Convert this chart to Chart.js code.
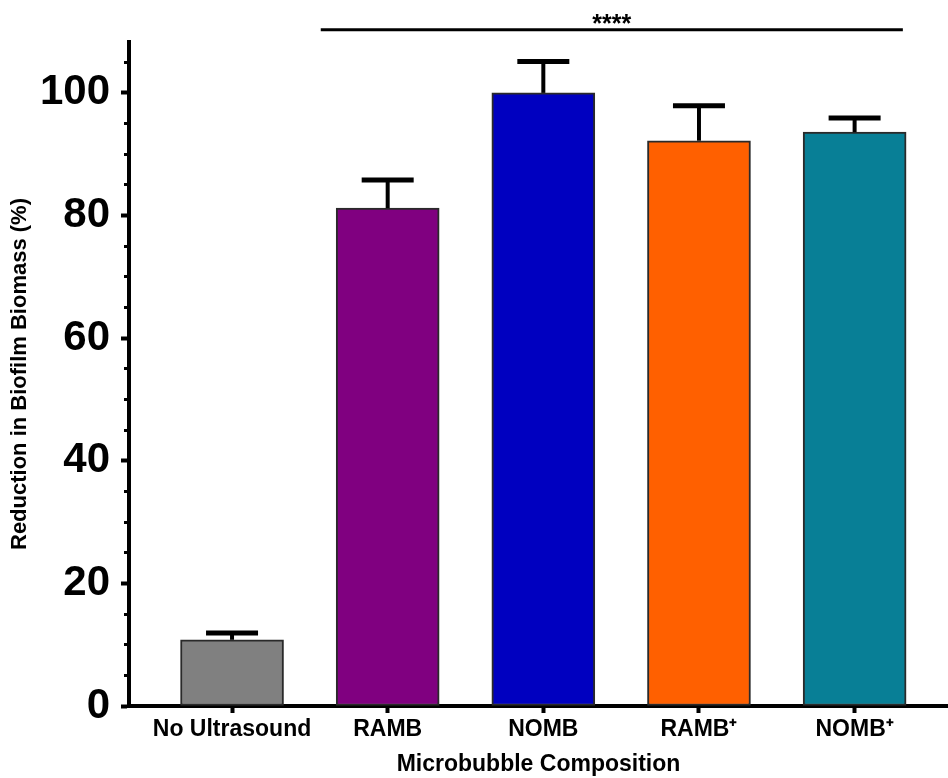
<!DOCTYPE html>
<html>
<head>
<meta charset="utf-8">
<script src="https://cdn.jsdelivr.net/npm/chart.js@4.4.1/dist/chart.umd.min.js"></script>
<style>
  html, body { margin: 0; padding: 0; background: #ffffff; }
  #wrap { width: 948px; height: 778px; }
</style>
</head>
<body>
<div id="wrap"><canvas id="chart" width="948" height="778"></canvas></div>
<script>
// Biofilm biomass reduction by microbubble composition (mean and SD)
const categories = ['No Ultrasound', 'RAMB', 'NOMB', 'RAMB\u207A', 'NOMB\u207A'];
const meanReduction = [10.8, 81.2, 100.0, 92.2, 93.6];
const sdReduction = [1.1, 4.6, 5.1, 5.7, 2.3];
const barColors = ['#808080', '#800080', '#0000C0', '#FF6000', '#087F96'];
const yTickLabels = ['0', '20', '40', '60', '80', '100'];
const significanceLabel = '****';

const FONT = "'Liberation Sans', Arial, Helvetica, sans-serif";
Chart.defaults.font.family = FONT;
Chart.defaults.color = '#000000';

// Upper error bars (mean + SD) drawn over each bar
const errorBarPlugin = {
  id: 'errorBars',
  afterDatasetsDraw(chart) {
    const ctx = chart.ctx;
    const yScale = chart.scales.y;
    const meta = chart.getDatasetMeta(0);
    ctx.save();
    ctx.strokeStyle = '#000000';
    ctx.lineCap = 'butt';
    meta.data.forEach((bar, i) => {
      const yTop = yScale.getPixelForValue(meanReduction[i] + sdReduction[i]);
      const yBase = bar.y;
      ctx.lineWidth = 4;
      ctx.beginPath();
      ctx.moveTo(bar.x, yBase);
      ctx.lineTo(bar.x, yTop);
      ctx.stroke();
      ctx.lineWidth = 5;
      ctx.beginPath();
      ctx.moveTo(bar.x - 26, yTop);
      ctx.lineTo(bar.x + 26, yTop);
      ctx.stroke();
    });
    ctx.restore();
  }
};

// Significance bracket across the treated groups
const bracketPlugin = {
  id: 'sigBracket',
  afterDraw(chart, args, opts) {
    const ctx = chart.ctx;
    const xs = chart.scales.x, ys = chart.scales.y;
    const x1 = xs.getPixelForValue(opts.from);
    const x2 = xs.getPixelForValue(opts.to);
    const y = ys.getPixelForValue(opts.level);
    ctx.save();
    ctx.strokeStyle = '#000000';
    ctx.lineWidth = 3;
    ctx.beginPath();
    ctx.moveTo(x1, y);
    ctx.lineTo(x2, y);
    ctx.stroke();
    ctx.fillStyle = '#000000';
    ctx.font = 'bold 25px ' + FONT;
    ctx.textAlign = 'center';
    ctx.textBaseline = 'alphabetic';
    ctx.fillText(significanceLabel, (x1 + x2) / 2, y + 2);
    ctx.restore();
  }
};

new Chart(document.getElementById('chart'), {
  type: 'bar',
  data: {
    datasets: [{
      data: meanReduction.map((v, i) => ({ x: i, y: v })),
      backgroundColor: barColors,
      borderColor: '#2a2a2a',
      borderWidth: 2,
      borderSkipped: false,
      barThickness: 103
    }]
  },
  options: {
    responsive: false,
    animation: false,
    devicePixelRatio: 1,
    layout: { padding: { top: 42, left: 0, right: 0, bottom: 0 } },
    plugins: {
      legend: { display: false },
      tooltip: { enabled: false },
      sigBracket: { from: 0.57, to: 4.31, level: 110.3 }
    },
    scales: {
      x: {
        type: 'linear',
        bounds: 'data',
        offset: false,
        min: -0.662,
        max: 4.6,
        afterFit: (s) => { s.height = 72; },
        // one tick per category
        afterBuildTicks: (s) => { s.ticks = categories.map((_, i) => ({ value: i })); },
        grid: {
          offset: false,
          drawOnChartArea: false,
          color: '#000000',
          tickColor: '#000000',
          tickLength: 7,
          tickWidth: 4
        },
        border: { display: true, color: '#000000', width: 4 },
        ticks: {
          autoSkip: false,
          maxRotation: 0,
          padding: 3,
          color: '#000000',
          font: { size: 23, weight: 'bold' },
          callback: (v) => categories[Math.round(v)] ?? ''
        },
        title: {
          display: true,
          text: 'Microbubble Composition',
          color: '#000000',
          font: { size: 23, weight: 'bold', lineHeight: 1.2 },
          padding: { top: 0, bottom: 0 }
        }
      },
      y: {
        type: 'linear',
        bounds: 'data',
        min: 0,
        max: 108.3,
        afterFit: (s) => { s.width = 129; },
        grid: {
          drawOnChartArea: false,
          color: '#000000',
          tickColor: '#000000',
          tickLength: 8,
          tickWidth: (c) => (c.tick && c.tick.value % 20 === 0 ? 4 : 3),
          tickBorderDash: (c) => (c.tick && c.tick.value % 20 === 0 ? [] : [0, 3, 40])
        },
        border: { display: true, color: '#000000', width: 4 },
        ticks: {
          stepSize: 5,
          includeBounds: false,
          autoSkip: false,
          padding: 11,
          color: '#000000',
          font: { size: 42, weight: 'bold' },
          callback: (v) => (v % 20 === 0 ? yTickLabels[v / 20] : '')
        },
        title: {
          display: true,
          text: 'Reduction in Biofilm Biomass (%)',
          color: '#000000',
          font: { size: 22, weight: 'bold', lineHeight: 1.2 },
          padding: { top: 7, bottom: 0 }
        }
      }
    }
  },
  plugins: [errorBarPlugin, bracketPlugin]
});
</script>
</body>
</html>
